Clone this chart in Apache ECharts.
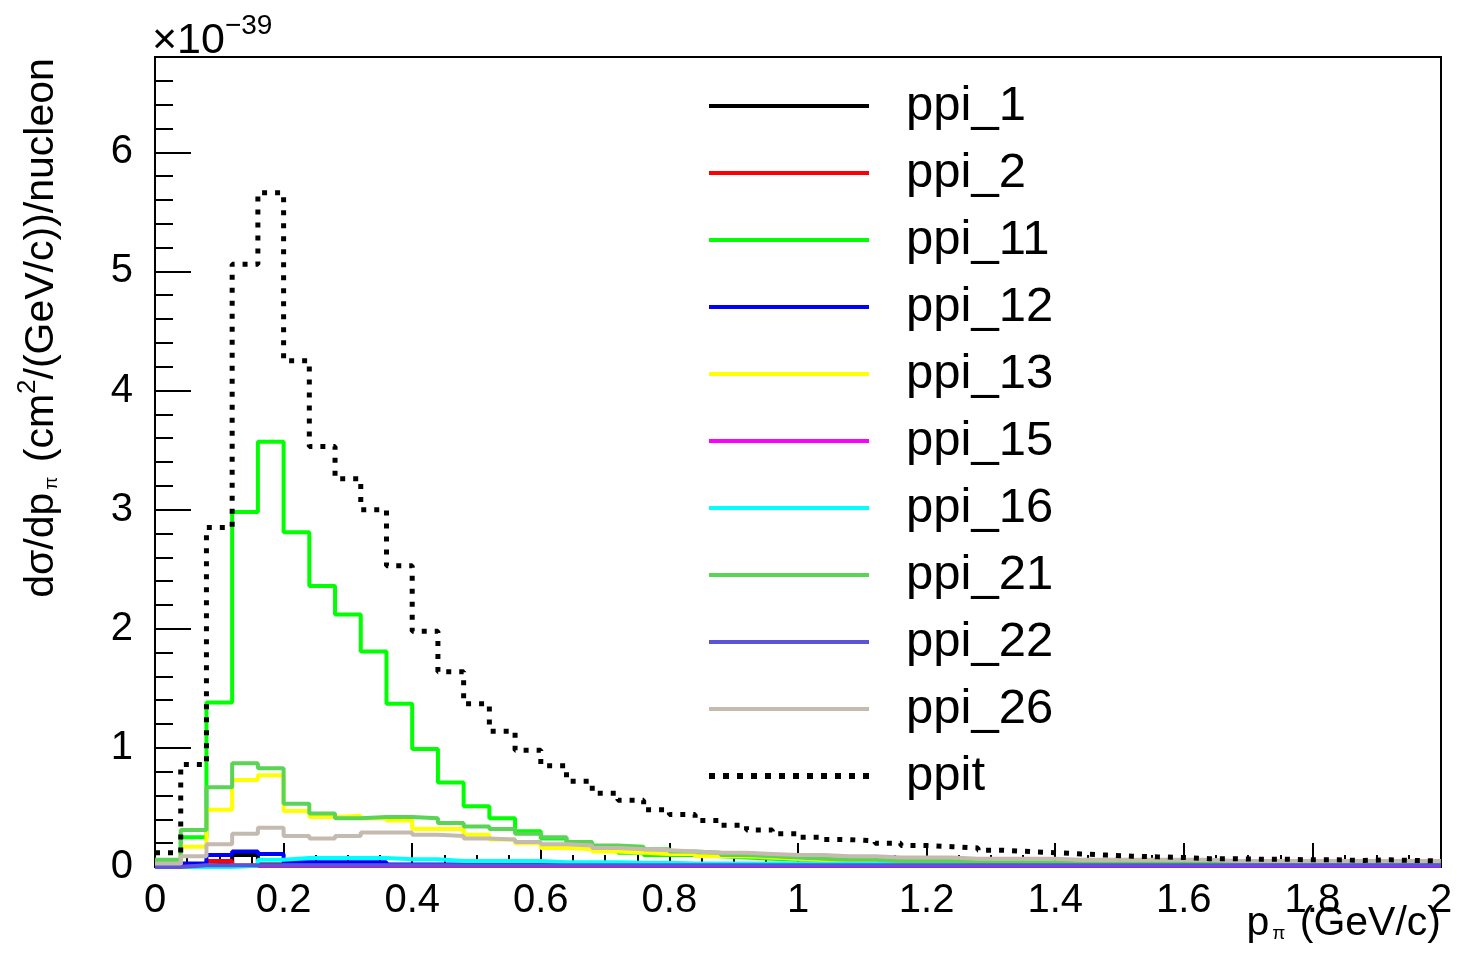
<!DOCTYPE html>
<html>
<head>
<meta charset="utf-8">
<script src="https://cdn.jsdelivr.net/npm/echarts@6/dist/echarts.min.js"></script>
<style>
  html, body { margin: 0; padding: 0; background: #fff; }
  #chart { width: 1457px; height: 959px; }
</style>
</head>
<body>
<div id="chart"></div>
<script>
// Histogram binning: 50 bins of 0.04 GeV/c from 0 to 2
const BIN_COUNT = 50;
const BIN_WIDTH = 0.04;
const X_MAX = 2;

// Bin contents, in units of 1e-39 cm^2/(GeV/c)/nucleon
const ppi_1  = [0.00, 0.01, 0.02, 0.10, 0.02, 0.01, 0.01, 0.01, 0.01, 0.01,
                0.01, 0.01, 0.01, 0.01, 0.01, 0.01, 0.01, 0.01, 0.01, 0.01,
                0.01, 0.01, 0.01, 0.01, 0.01, 0.01, 0.01, 0.01, 0.01, 0.01,
                0.01, 0.01, 0.01, 0.01, 0.01, 0.01, 0.01, 0.01, 0.01, 0.01,
                0.01, 0.01, 0.01, 0.01, 0.01, 0.01, 0.01, 0.01, 0.01, 0.01];
const ppi_2  = [0.00, 0.01, 0.05, 0.01, 0.01, 0.01, 0.01, 0.01, 0.01, 0.01,
                0.01, 0.01, 0.01, 0.01, 0.01, 0.01, 0.01, 0.01, 0.01, 0.01,
                0.01, 0.01, 0.01, 0.01, 0.01, 0.01, 0.01, 0.01, 0.01, 0.01,
                0.01, 0.01, 0.01, 0.01, 0.01, 0.01, 0.01, 0.01, 0.01, 0.01,
                0.01, 0.01, 0.01, 0.01, 0.01, 0.01, 0.01, 0.01, 0.01, 0.01];
const ppi_11 = [0.05, 0.25, 1.38, 2.98, 3.57, 2.81, 2.36, 2.12, 1.81, 1.37,
                0.99, 0.71, 0.51, 0.41, 0.30, 0.24, 0.19, 0.15, 0.12, 0.10,
                0.10, 0.09, 0.08, 0.07, 0.06, 0.06, 0.05, 0.05, 0.05, 0.04,
                0.04, 0.04, 0.04, 0.03, 0.03, 0.03, 0.03, 0.03, 0.03, 0.03,
                0.02, 0.02, 0.02, 0.02, 0.02, 0.02, 0.02, 0.02, 0.02, 0.02];
const ppi_12 = [0.00, 0.03, 0.10, 0.13, 0.11, 0.04, 0.04, 0.04, 0.04, 0.02,
                0.02, 0.02, 0.02, 0.02, 0.02, 0.02, 0.02, 0.02, 0.01, 0.01,
                0.01, 0.01, 0.01, 0.01, 0.01, 0.01, 0.01, 0.01, 0.01, 0.01,
                0.01, 0.01, 0.01, 0.01, 0.01, 0.01, 0.01, 0.01, 0.01, 0.01,
                0.01, 0.01, 0.01, 0.01, 0.01, 0.01, 0.01, 0.01, 0.01, 0.01];
const ppi_13 = [0.02, 0.17, 0.48, 0.73, 0.77, 0.47, 0.42, 0.43, 0.41, 0.39,
                0.32, 0.32, 0.27, 0.23, 0.20, 0.16, 0.15, 0.13, 0.12, 0.11,
                0.11, 0.09, 0.09, 0.08, 0.07, 0.06, 0.06, 0.05, 0.05, 0.05,
                0.04, 0.04, 0.04, 0.04, 0.03, 0.03, 0.03, 0.03, 0.03, 0.03,
                0.03, 0.02, 0.02, 0.02, 0.02, 0.02, 0.02, 0.02, 0.02, 0.02];
const ppi_15 = [0.00, 0.01, 0.01, 0.01, 0.01, 0.01, 0.01, 0.01, 0.01, 0.01,
                0.01, 0.01, 0.01, 0.01, 0.01, 0.01, 0.01, 0.01, 0.01, 0.01,
                0.01, 0.01, 0.01, 0.01, 0.01, 0.01, 0.01, 0.01, 0.01, 0.01,
                0.01, 0.01, 0.01, 0.01, 0.01, 0.01, 0.01, 0.01, 0.01, 0.01,
                0.01, 0.01, 0.01, 0.01, 0.01, 0.01, 0.01, 0.01, 0.01, 0.01];
const ppi_16 = [0.00, 0.00, 0.00, 0.01, 0.06, 0.075, 0.075, 0.075, 0.075, 0.065,
                0.065, 0.05, 0.05, 0.05, 0.05, 0.04, 0.04, 0.04, 0.035, 0.035,
                0.03, 0.03, 0.03, 0.03, 0.03, 0.025, 0.025, 0.025, 0.025, 0.025,
                0.02, 0.02, 0.02, 0.02, 0.02, 0.02, 0.02, 0.02, 0.02, 0.02,
                0.02, 0.02, 0.02, 0.02, 0.02, 0.02, 0.02, 0.02, 0.02, 0.02];
const ppi_21 = [0.06, 0.31, 0.67, 0.87, 0.83, 0.53, 0.45, 0.41, 0.42, 0.42,
                0.41, 0.37, 0.34, 0.32, 0.28, 0.25, 0.21, 0.18, 0.17, 0.15,
                0.13, 0.12, 0.10, 0.09, 0.08, 0.07, 0.06, 0.06, 0.05, 0.05,
                0.05, 0.04, 0.04, 0.04, 0.04, 0.03, 0.03, 0.03, 0.03, 0.03,
                0.03, 0.03, 0.02, 0.02, 0.02, 0.02, 0.02, 0.02, 0.02, 0.02];
const ppi_22 = [0.00, 0.015, 0.015, 0.015, 0.015, 0.015, 0.015, 0.015, 0.015, 0.015,
                0.015, 0.015, 0.015, 0.015, 0.015, 0.015, 0.015, 0.015, 0.015, 0.015,
                0.015, 0.015, 0.015, 0.015, 0.015, 0.015, 0.015, 0.015, 0.015, 0.015,
                0.015, 0.015, 0.015, 0.015, 0.015, 0.015, 0.015, 0.015, 0.015, 0.015,
                0.015, 0.015, 0.015, 0.015, 0.015, 0.015, 0.015, 0.015, 0.015, 0.015];
const ppi_26 = [0.03, 0.09, 0.19, 0.28, 0.33, 0.26, 0.24, 0.26, 0.29, 0.29,
                0.27, 0.26, 0.24, 0.23, 0.21, 0.19, 0.18, 0.16, 0.15, 0.14,
                0.13, 0.12, 0.12, 0.11, 0.10, 0.10, 0.09, 0.09, 0.08, 0.08,
                0.08, 0.07, 0.07, 0.07, 0.07, 0.06, 0.06, 0.06, 0.06, 0.06,
                0.06, 0.05, 0.05, 0.05, 0.05, 0.05, 0.05, 0.05, 0.05, 0.05];
const ppit   = [0.12, 0.86, 2.85, 5.06, 5.66, 4.25, 3.53, 3.26, 3.00, 2.53,
                1.98, 1.64, 1.37, 1.14, 0.98, 0.85, 0.72, 0.62, 0.56, 0.48,
                0.44, 0.39, 0.35, 0.31, 0.28, 0.25, 0.23, 0.22, 0.20, 0.18,
                0.17, 0.16, 0.14, 0.13, 0.12, 0.11, 0.10, 0.09, 0.085, 0.08,
                0.07, 0.07, 0.065, 0.065, 0.06, 0.06, 0.055, 0.06, 0.055, 0.05];

const seriesNames = ['ppi_1', 'ppi_2', 'ppi_11', 'ppi_12', 'ppi_13', 'ppi_15',
                     'ppi_16', 'ppi_21', 'ppi_22', 'ppi_26', 'ppit'];
const seriesValues = [ppi_1, ppi_2, ppi_11, ppi_12, ppi_13, ppi_15,
                      ppi_16, ppi_21, ppi_22, ppi_26, ppit];
const seriesColors = ['#000000', '#ff0000', '#00ff00', '#0000ff', '#ffff00', '#ff00ff',
                      '#00ffff', '#59d454', '#5954d8', '#c4bab0', '#000000'];

const yTicks = [0, 1, 2, 3, 4, 5, 6];

// Step outline: each bin's lower edge carries its content, closing point at the last upper edge
function histPoints(values) {
  const pts = [];
  for (let i = 0; i < BIN_COUNT; i++) {
    pts.push([+(i * BIN_WIDTH).toFixed(2), values[i]]);
  }
  pts.push([X_MAX, values[BIN_COUNT - 1]]);
  return pts;
}

const FONT = '"Liberation Sans", Arial, Helvetica, sans-serif';
const chart = echarts.init(document.getElementById('chart'), null, { renderer: 'canvas' });

const isDotted = name => name === 'ppit';

const series = seriesNames.map((name, k) => ({
  name: name,
  type: 'line',
  step: 'end',
  symbol: 'none',
  animation: false,
  data: histPoints(seriesValues[k]),
  lineStyle: isDotted(name)
    ? { color: seriesColors[k], width: 5, type: [5, 8], cap: 'butt' }
    : { color: seriesColors[k], width: 4 },
  itemStyle: { color: seriesColors[k] },
  z: 2
}));

chart.setOption({
  animation: false,
  backgroundColor: '#ffffff',
  grid: {
    left: 155, right: 16, top: 57, bottom: 92,
    show: true, borderColor: '#000', borderWidth: 2, backgroundColor: 'transparent'
  },
  xAxis: {
    type: 'value',
    min: 0, max: X_MAX, interval: 0.2,
    axisLine: { lineStyle: { color: '#000', width: 2 } },
    axisTick: { inside: true, length: 24, lineStyle: { color: '#000', width: 2 } },
    minorTick: { show: true, splitNumber: 4, length: 12, lineStyle: { color: '#000', width: 2 } },
    splitLine: { show: false },
    axisLabel: { color: '#000', fontFamily: FONT, fontSize: 40, margin: 14 }
  },
  yAxis: {
    type: 'value',
    min: 0, max: 6.8, interval: 1,
    axisLine: { lineStyle: { color: '#000', width: 2 } },
    axisTick: { inside: true, length: 36, lineStyle: { color: '#000', width: 2 } },
    minorTick: { show: true, splitNumber: 5, length: 18, lineStyle: { color: '#000', width: 2 } },
    splitLine: { show: false },
    axisLabel: {
      color: '#000', fontFamily: FONT, fontSize: 40, margin: 22,
      showMaxLabel: false,
      formatter: v => (yTicks.indexOf(v) >= 0 ? String(v) : '')
    }
  },
  legend: {
    orient: 'vertical',
    left: 706, top: 81, padding: 0,
    itemWidth: 160, itemHeight: 20, itemGap: 17,
    data: seriesNames.map(name => ({
      name: name,
      lineStyle: isDotted(name)
        ? { width: 6, type: [6, 8], cap: 'butt' }
        : { width: 4 }
    })),
    itemStyle: { opacity: 0 },
    textStyle: {
      color: '#000', fontFamily: FONT, fontSize: 49, lineHeight: 50,
      padding: [0, 0, 0, 32]
    },
    selectedMode: false
  },
  graphic: [
    {
      type: 'text', left: 152, top: 12, z: 10,
      style: {
        text: '{a|×10}{s|−39}',
        fill: '#000',
        rich: {
          a: { fontFamily: FONT, fontSize: 43, fill: '#000' },
          s: { fontFamily: FONT, fontSize: 28, fill: '#000', padding: [0, 0, 30, 0] }
        }
      }
    },
    {
      type: 'text', z: 10,
      x: 42, y: 328, rotation: Math.PI / 2,
      style: {
        text: '{a|dσ/dp}{b|π}{a| (cm}{c|2}{a|/(GeV/c))/nucleon}',
        align: 'center', verticalAlign: 'middle',
        fill: '#000',
        rich: {
          a: { fontFamily: FONT, fontSize: 41, fill: '#000' },
          b: { fontFamily: FONT, fontSize: 19, fill: '#000', padding: [20, 3, 0, 3] },
          c: { fontFamily: FONT, fontSize: 26, fill: '#000', padding: [0, 0, 28, 0] }
        }
      }
    },
    {
      type: 'text', z: 10,
      right: 16, top: 903,
      style: {
        text: '{a|p}{b|π}{a| (GeV/c)}',
        fill: '#000',
        rich: {
          a: { fontFamily: FONT, fontSize: 41, fill: '#000' },
          b: { fontFamily: FONT, fontSize: 19, fill: '#000', padding: [20, 3, 0, 3] }
        }
      }
    }
  ],
  series: series
});
</script>
</body>
</html>
